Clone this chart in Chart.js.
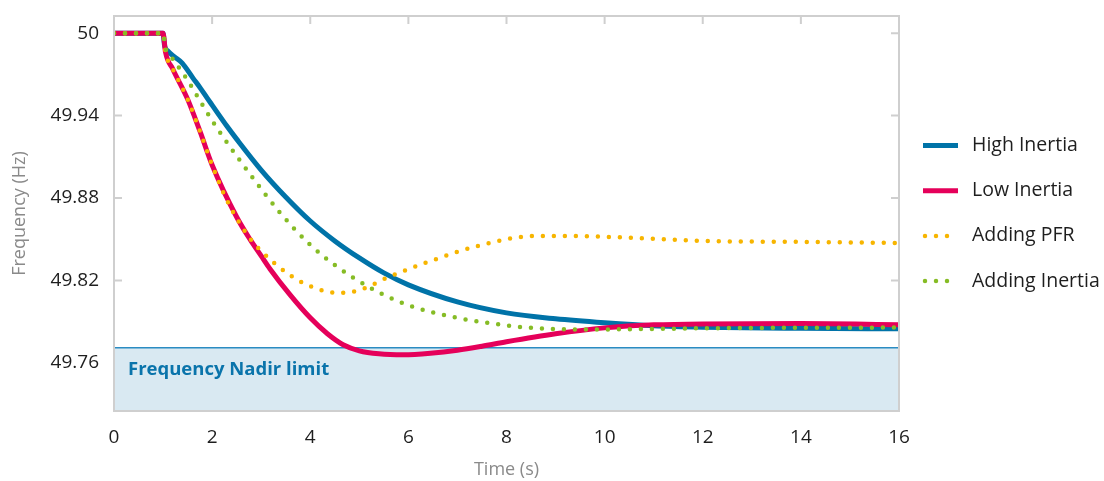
<!DOCTYPE html>
<html>
<head>
<meta charset="utf-8">
<script src="https://cdn.jsdelivr.net/npm/chart.js@4.4.0/dist/chart.umd.min.js"></script>
<style>
  html, body { margin: 0; padding: 0; background: #fff; }
  #wrap { width: 1104px; height: 481px; position: relative; }
</style>
</head>
<body>
<div id="wrap"><canvas id="chart"></canvas></div>
<script>
'use strict';

// values (time in s, frequency in Hz)
const highT = [0, 1, 1.03, 1.1, 1.24, 1.39, 1.61, 1.76, 1.9, 2, 2.3, 2.5, 3, 3.5, 4, 4.5, 5, 5.5, 6, 7, 8, 9, 10, 11, 12, 14, 16];
const highF = [50, 50, 49.991, 49.9869, 49.9826, 49.9782, 49.9673, 49.9600, 49.9527, 49.9476, 49.9324, 49.9229, 49.9004, 49.8808, 49.8633, 49.8488, 49.8364, 49.8255, 49.8168, 49.8044, 49.7964, 49.7921, 49.7892, 49.7870, 49.7860, 49.7852, 49.7848];

const lowT = [0, 1, 1.05, 1.2, 1.5, 1.75, 2, 2.5, 2.78, 3, 3.18, 3.59, 4, 4.35, 4.67, 5, 5.4, 5.9, 6.45, 7, 7.5, 8, 9, 10, 11, 12, 14, 16];
const lowF = [50, 50, 49.9862, 49.9738, 49.9520, 49.9288, 49.9040, 49.8662, 49.8495, 49.8379, 49.8284, 49.8095, 49.7928, 49.7812, 49.7732, 49.7688, 49.7666, 49.7659, 49.7670, 49.7692, 49.7721, 49.7754, 49.7812, 49.7855, 49.7877, 49.7884, 49.7886, 49.7878];

const pfrT = [0, 1, 1.05, 1.2, 1.5, 1.75, 2, 2.3, 2.75, 3.04, 3.55, 3.94, 4.37, 4.6, 5.02, 5.6, 6.4, 7.5, 8.6, 9.3, 10.6, 12, 14, 16];
const pfrF = [50, 50, 49.9862, 49.9738, 49.9520, 49.9288, 49.9040, 49.8786, 49.8517, 49.8401, 49.8248, 49.8168, 49.8117, 49.8110, 49.8132, 49.8226, 49.8335, 49.8459, 49.8524, 49.8524, 49.8510, 49.8488, 49.8481, 49.8473];

const inertiaT = [0, 1, 1.05, 1.1, 1.5, 1.72, 2.06, 2.71, 3.39, 4, 4.55, 4.88, 5.5, 6.1, 6.9, 7.6, 8.5, 9.4, 10, 12, 14, 16];
const inertiaF = [50, 50, 49.9891, 49.9862, 49.9658, 49.9527, 49.9331, 49.9004, 49.8691, 49.8459, 49.8299, 49.8219, 49.8095, 49.8008, 49.7935, 49.7892, 49.7855, 49.7844, 49.7844, 49.7852, 49.7856, 49.7857];

const nadirLimit = 49.771;
const xTicks = [0, 2, 4, 6, 8, 10, 12, 14, 16];
const yTicks = [50, 49.94, 49.88, 49.82, 49.76];

function pts(ts, fs) {
  return ts.map((t, i) => ({ x: t, y: fs[i] }));
}

const FONT = '"Open Sans", sans-serif';

// frame with inner tick marks on all four sides
const framePlugin = {
  id: 'frame',
  beforeDatasetsDraw(chart) {
    const { ctx, chartArea: a, scales } = chart;
    ctx.save();
    ctx.strokeStyle = '#cfcfcf';
    ctx.lineWidth = 2;
    ctx.beginPath();
    for (const v of xTicks) {
      const x = scales.x.getPixelForValue(v);
      ctx.moveTo(x, a.top); ctx.lineTo(x, a.top + 8);
      ctx.moveTo(x, a.bottom); ctx.lineTo(x, a.bottom - 8);
    }
    for (const v of yTicks) {
      const y = scales.y.getPixelForValue(v);
      ctx.moveTo(a.left, y); ctx.lineTo(a.left + 8, y);
      ctx.moveTo(a.right, y); ctx.lineTo(a.right - 8, y);
    }
    ctx.stroke();
    ctx.restore();
  },
  afterDatasetsDraw(chart) {
    const { ctx, chartArea: a, scales } = chart;
    ctx.save();
    ctx.strokeStyle = '#cfcfcf';
    ctx.lineWidth = 2;
    ctx.strokeRect(a.left, a.top, a.right - a.left, a.bottom - a.top);
    // label of the shaded band
    ctx.fillStyle = '#0a74ab';
    ctx.font = 'bold 18.5px ' + FONT;
    ctx.textBaseline = 'middle';
    ctx.fillText('Frequency Nadir limit', a.left + 14, scales.y.getPixelForValue(49.755));
    ctx.restore();
  }
};

// legend on the right with line / dotted samples
const legendPlugin = {
  id: 'sideLegend',
  afterDraw(chart) {
    const { ctx } = chart;
    const items = chart.data.datasets.filter(d => d.label);
    ctx.save();
    ctx.font = '19.5px ' + FONT;
    ctx.textBaseline = 'middle';
    items.forEach((d, i) => {
      const y = 145.5 + i * 45.2;
      ctx.strokeStyle = d.borderColor;
      ctx.lineWidth = d.borderDash ? 4.5 : 5;
      ctx.lineCap = d.borderDash ? 'round' : 'butt';
      ctx.setLineDash(d.borderDash ? [0, 11] : []);
      ctx.beginPath();
      ctx.moveTo(d.borderDash ? 925 : 923, y);
      ctx.lineTo(958, y);
      ctx.stroke();
      ctx.setLineDash([]);
      ctx.fillStyle = '#1e1e1e';
      ctx.fillText(d.label, 972, y);
    });
    ctx.restore();
  }
};

new Chart(document.getElementById('chart'), {
  type: 'line',
  data: {
    datasets: [
      {
        label: 'High Inertia',
        data: pts(highT, highF),
        borderColor: '#0073a8',
        borderWidth: 5,
        order: 4
      },
      {
        label: 'Low Inertia',
        data: pts(lowT, lowF),
        borderColor: '#e5005a',
        borderWidth: 5,
        order: 3
      },
      {
        label: 'Adding PFR',
        data: pts(pfrT, pfrF),
        borderColor: '#f7b500',
        borderWidth: 4.5,
        borderDash: [0, 11],
        borderCapStyle: 'round',
        order: 2
      },
      {
        label: 'Adding Inertia',
        data: pts(inertiaT, inertiaF),
        borderColor: '#86bc25',
        borderWidth: 4.5,
        borderDash: [0, 11],
        borderCapStyle: 'round',
        order: 1
      },
      {
        label: '',
        data: [{ x: 0, y: nadirLimit }, { x: 16, y: nadirLimit }],
        borderColor: '#2b8cc2',
        borderWidth: 1.5,
        backgroundColor: '#d9e9f2',
        fill: 'start',
        order: 10
      }
    ]
  },
  options: {
    responsive: true,
    maintainAspectRatio: false,
    animation: false,
    devicePixelRatio: 1,
    layout: { padding: { top: 16, right: 205, left: 0, bottom: 0 } },
    elements: {
      point: { radius: 0, hoverRadius: 0 },
      line: { cubicInterpolationMode: 'monotone' }
    },
    plugins: {
      legend: { display: false },
      tooltip: { enabled: false }
    },
    scales: {
      x: {
        type: 'linear',
        min: 0,
        max: 16,
        afterBuildTicks: (s) => { s.ticks = xTicks.map(v => ({ value: v })); },
        afterFit: (s) => { s.height = 70; },
        grid: { display: false, drawTicks: false },
        border: { display: false },
        ticks: { color: '#1e1e1e', font: { family: FONT, size: 19 }, padding: 15 },
        title: { display: true, text: 'Time (s)', color: '#8a8a8a', font: { family: FONT, size: 18 }, padding: { top: 0, bottom: 0 } }
      },
      y: {
        min: 49.725,
        max: 50.0125,
        afterBuildTicks: (s) => { s.ticks = yTicks.map(v => ({ value: v })); },
        afterFit: (s) => { s.width = 114; s.paddingTop = 0; s.paddingBottom = 0; },
        grid: { display: false, drawTicks: false },
        border: { display: false },
        ticks: { color: '#1e1e1e', font: { family: FONT, size: 19 }, padding: 15, callback: (v) => String(v) },
        title: { display: true, text: 'Frequency (Hz)', color: '#8a8a8a', font: { family: FONT, size: 18 }, padding: { top: 9, bottom: 0 } }
      }
    }
  },
  plugins: [framePlugin, legendPlugin]
});
</script>
</body>
</html>
